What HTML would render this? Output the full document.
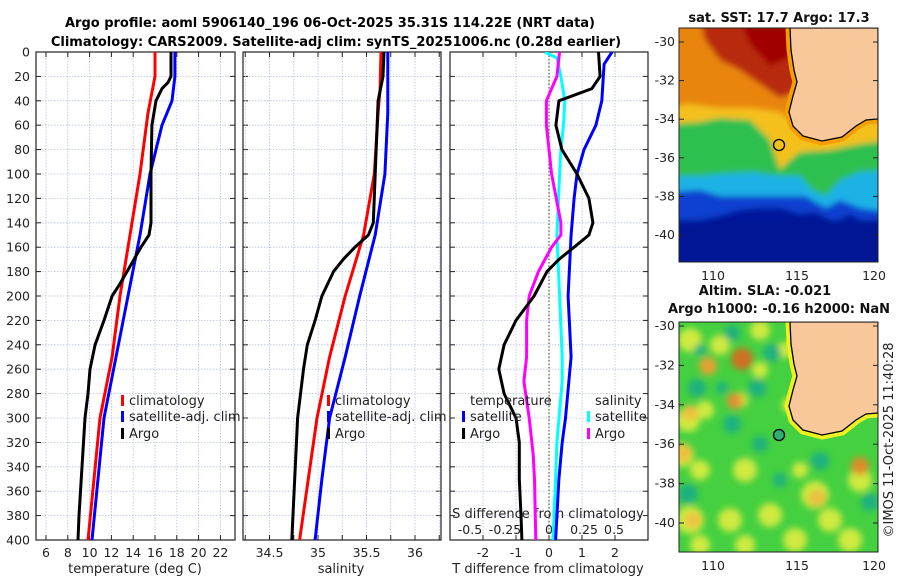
<!DOCTYPE html>
<html><head><meta charset="utf-8"><style>
html,body{margin:0;padding:0;background:#fff;}
svg{display:block;font-family:"DejaVu Sans","Liberation Sans",sans-serif;}
</style></head><body>
<svg id="fig" width="900" height="580" viewBox="0 0 900 580" xmlns="http://www.w3.org/2000/svg">
<defs>
<clipPath id="c1"><rect x="36" y="52" width="199" height="488"/></clipPath>
<clipPath id="c2"><rect x="243" y="52" width="198" height="488"/></clipPath>
<clipPath id="c3"><rect x="450" y="52" width="198" height="488"/></clipPath>
<clipPath id="m1"><rect x="679" y="28" width="199" height="234"/></clipPath>
<clipPath id="m2"><rect x="679" y="322" width="199" height="230"/></clipPath>
<filter id="bl" x="-20%" y="-20%" width="140%" height="140%"><feGaussianBlur stdDeviation="3"/></filter>
<filter id="bl2" x="-50%" y="-50%" width="200%" height="200%"><feGaussianBlur stdDeviation="3.5"/></filter>
</defs>
<text x="330" y="27" text-anchor="middle" font-weight="bold" font-size="13">Argo profile: aoml 5906140_196 06-Oct-2025 35.31S 114.22E (NRT data)</text>
<text x="336" y="46" text-anchor="middle" font-weight="bold" font-size="13">Climatology: CARS2009. Satellite-adj clim: synTS_20251006.nc (0.28d earlier)</text>
<g id="panels"></g>
<g id="maps"></g>
</svg>
<script>
// ---------- data ----------
const tempDepths = [0,20,50,100,150,200,250,300,350,400];
const tempClim = [16.0,16.0,15.36,14.62,13.71,12.79,12.06,10.95,10.4,9.85];
const tempSatDepths = [0,20,40,60,100,150,200,250,300,350,400];
const tempSat = [17.83,17.83,17.56,16.64,15.54,14.62,13.52,12.42,11.32,10.77,10.22];
const argoDepths = [0,20,25,30,40,60,100,140,150,160,170,180,190,200,220,240,260,280,300,340,380,400];
const tempArgo = [17.47,17.47,17.19,16.64,16.09,15.72,15.63,15.63,15.45,14.72,14.07,13.43,12.79,12.06,11.32,10.5,10.04,9.85,9.58,9.3,9.03,8.94];
const salDepths = [0,30,50,100,150,200,250,300,350,400];
const salClim = [35.65,35.64,35.62,35.58,35.47,35.28,35.12,34.99,34.90,34.81];
const salSatDepths = [0,50,100,150,200,250,300,350,400];
const salSat = [35.72,35.72,35.69,35.59,35.43,35.28,35.12,35.04,34.97];
const salArgoDepths = [0,20,40,100,140,150,160,170,180,200,220,240,260,300,350,400];
const salArgo = [35.68,35.67,35.62,35.59,35.57,35.52,35.38,35.26,35.16,35.04,34.97,34.89,34.85,34.79,34.76,34.73];
const dTSatDepths = [0,10,40,60,80,100,120,150,200,250,300,320,350,400];
const dTSat = [1.91,1.67,1.6,1.42,1.06,0.85,0.76,0.67,0.58,0.67,0.5,0.4,0.3,0.2];
const dTArgoDepths = [0,20,30,40,60,80,100,120,140,150,160,170,180,200,220,240,260,280,300,320,350,380,400];
const dTArgo = [1.5,1.55,1.3,0.3,0.21,0.39,0.85,1.21,1.33,1.21,0.76,0.3,-0.06,-0.45,-1.0,-1.36,-1.52,-1.36,-1.0,-0.9,-0.9,-0.85,-0.82];
const dSSatDepths = [0,5,20,40,60,80,100,150,200,250,270,320,350,400];
const dSSat = [-0.03,0.06,0.09,0.12,0.11,0.09,0.08,0.06,0.08,0.1,0.1,0.06,0.05,0.03];
const dSArgoDepths = [0,20,30,40,60,100,140,150,160,170,180,200,220,250,270,300,330,350,400];
const dSArgo = [0.08,0.06,0.02,-0.02,-0.02,0.02,0.09,0.09,0.02,-0.03,-0.08,-0.15,-0.17,-0.17,-0.19,-0.15,-0.12,-0.11,-0.1];
const depthTicks = [0,20,40,60,80,100,120,140,160,180,200,220,240,260,280,300,320,340,360,380,400];
const tempTicks = [6,8,10,12,14,16,18,20,22];
const salTicks = [34.5,35,35.5,36];
const salGrid = [34.25,34.5,34.75,35,35.25,35.5,35.75,36,36.25];
const dTTicks = [-2,-1,0,1,2];
const dSTickLabels = ['-0.5','-0.25','0','0.25','0.5'];

// ---------- scales ----------
const yD = d => 52 + d*1.22;
const xT = t => 46 + (t-6)*10.9;
const xS = s => 318 + (s-35)*97;
const xdT = t => 549 + t*33;
const xdS = s => 549 + s*132;

const NS='http://www.w3.org/2000/svg';
const P=document.getElementById('panels');
function el(tag,attrs,parent,txt){const e=document.createElementNS(NS,tag);for(const k in attrs)e.setAttribute(k,attrs[k]);if(txt!==undefined)e.textContent=txt;(parent||P).appendChild(e);return e;}
function line(vals,depths,xf,color,clip,name){
  const pts=vals.map((v,i)=>xf(v).toFixed(1)+','+yD(depths[i]).toFixed(1)).join(' ');
  const e=el('polyline',{points:pts,fill:'none',stroke:color,'stroke-width':3,'stroke-linejoin':'round','clip-path':'url(#'+clip+')'});
  
  
}
function panel(x0,w,clip,name){
  const g=el('g',{});
  
  
  depthTicks.forEach(d=>{
    el('line',{x1:x0,x2:x0+w,y1:yD(d),y2:yD(d),stroke:'#b8c0e0','stroke-width':0.8,'stroke-dasharray':'1.5,1.5'},g);
    el('line',{x1:x0,x2:x0+5,y1:yD(d),y2:yD(d),stroke:'#222'},g);
    el('line',{x1:x0+w-5,x2:x0+w,y1:yD(d),y2:yD(d),stroke:'#222'},g);
  });
  return g;
}
function vgrid(g,xs){xs.forEach(x=>{el('line',{x1:x,x2:x,y1:52,y2:540,stroke:'#b8c0e0','stroke-width':0.8,'stroke-dasharray':'1.5,1.5'},g);
  el('line',{x1:x,x2:x,y1:540,y2:535,stroke:'#222'},g);el('line',{x1:x,x2:x,y1:52,y2:57,stroke:'#222'},g);});}
function frame(g,x0,w){el('rect',{x:x0,y:52,width:w,height:488,fill:'none',stroke:'#222','stroke-width':1.2},g);}

const FS=12.5;
// y tick labels
const yl=el('g',{});


depthTicks.forEach(d=>el('text',{x:30,y:yD(d)+4.5,'text-anchor':'end','font-size':FS,fill:'#222'},yl,String(d)));

// panel 1
let g1=panel(36,199,'c1','temperature-panel');
vgrid(g1,tempTicks.map(xT));
tempTicks.forEach(t=>el('text',{x:xT(t),y:557,'text-anchor':'middle','font-size':FS,fill:'#222'},g1,String(t)));
el('text',{x:135,y:573,'text-anchor':'middle','font-size':13,fill:'#222'},g1,'temperature (deg C)');
line(tempClim,tempDepths,xT,'#ff0000','c1','temp-climatology-line');
line(tempSat,tempSatDepths,xT,'#0000ff','c1','temp-satellite-line');
line(tempArgo,argoDepths,xT,'#000000','c1','temp-argo-line');
frame(g1,36,199);

// panel 2
let g2=panel(243,198,'c2','salinity-panel');
vgrid(g2,salGrid.map(xS).filter(x=>x>243&&x<441));
salTicks.forEach(t=>el('text',{x:xS(t),y:557,'text-anchor':'middle','font-size':FS,fill:'#222'},g2,String(t)));
el('text',{x:341,y:573,'text-anchor':'middle','font-size':13,fill:'#222'},g2,'salinity');
line(salClim,salDepths,xS,'#ff0000','c2','sal-climatology-line');
line(salSat,salSatDepths,xS,'#0000ff','c2','sal-satellite-line');
line(salArgo,salArgoDepths,xS,'#000000','c2','sal-argo-line');
frame(g2,243,198);

// panel 3
let g3=panel(450,198,'c3','difference-panel');
vgrid(g3,dTTicks.map(xdT));
el('line',{x1:549,x2:549,y1:52,y2:540,stroke:'#556633','stroke-width':1.2,'stroke-dasharray':'1.5,2'},g3);
dTTicks.forEach(t=>el('text',{x:xdT(t),y:557,'text-anchor':'middle','font-size':FS,fill:'#222'},g3,String(t)));
el('text',{x:548,y:573,'text-anchor':'middle','font-size':13,fill:'#222'},g3,'T difference from climatology');
line(dSSat,dSSatDepths,xdS,'#00ffff','c3','sal-diff-satellite-line');
line(dSArgo,dSArgoDepths,xdS,'#ff00ff','c3','sal-diff-argo-line');
line(dTSat,dTSatDepths,xdT,'#0000ff','c3','temp-diff-satellite-line');
line(dTArgo,dTArgoDepths,xdT,'#000000','c3','temp-diff-argo-line');
el('text',{x:548,y:518,'text-anchor':'middle','font-size':13,fill:'#222'},g3,'S difference from climatology');
const sLab=[470,505,549,584,614];
dSTickLabels.forEach((t,i)=>el('text',{x:sLab[i],y:534,'text-anchor':'middle','font-size':FS,fill:'#222'},g3,t));
frame(g3,450,198);

// legends
function leg(x,y,color,txt,name){
  const g=el('g',{});
  
  
  if(color) el('rect',{x:x,y:y-10,width:3,height:11,fill:color},g);
  el('text',{x:x+(color?8:0),y:y,'font-size':13,fill:'#222'},g,txt);
}
leg(121,405,'#ff0000','climatology','legend-temp-climatology');
leg(121,421,'#0000ff','satellite-adj. clim','legend-temp-satellite');
leg(121,438,'#000000','Argo','legend-temp-argo');
leg(327,405,'#ff0000','climatology','legend-sal-climatology');
leg(327,421,'#0000ff','satellite-adj. clim','legend-sal-satellite');
leg(327,438,'#000000','Argo','legend-sal-argo');
leg(470,405,null,'temperature','legend-diff-temperature-title');
leg(462,421,'#0000ff','satellite','legend-diff-temp-satellite');
leg(462,438,'#000000','Argo','legend-diff-temp-argo');
leg(595,405,null,'salinity','legend-diff-salinity-title');
leg(587,421,'#00ffff','satellite','legend-diff-sal-satellite');
leg(587,438,'#ff00ff','Argo','legend-diff-sal-argo');

// ---------- maps ----------
const M=document.getElementById('maps');
function mel(tag,attrs,parent,txt){return el(tag,attrs,parent||M,txt);}
function land(dy){return `M790,${28+dy} L878,${28+dy} L878,${119+dy} L866,${120+dy} L856,${126+dy} L842,${137+dy} L822,${141+dy} L803,${136+dy} L793,${126+dy} L789,${112+dy} L793,${96+dy} L797,${82+dy} L794,${70+dy} L791,${50+dy} Z`;}

// top SST map
const sm=mel('g',{'clip-path':'url(#m1)'});


const sg=mel('g',{filter:'url(#bl)'},sm);
mel('rect',{x:670,y:20,width:220,height:260,fill:'#00199a'},sg);
mel('path',{d:'M670,20 H890 V232 L870,226 L850,214 L835,222 L815,212 L800,214 L780,208 L760,208 L740,210 L720,216 L700,220 L670,222 Z',fill:'#0a3fd0'},sg);
mel('path',{d:'M670,20 H890 V212 L860,208 L840,200 L826,208 L805,196 L780,196 L750,196 L720,196 L700,190 L670,192 Z',fill:'#1ab2e6'},sg);
mel('path',{d:'M670,20 H890 V170 L860,172 L840,180 L826,196 L812,190 L800,176 L780,176 L750,172 L720,174 L700,176 L670,176 Z',fill:'#2ec050'},sg);
mel('path',{d:'M670,20 H890 V140 L860,144 L830,150 L800,152 L790,160 L780,170 L770,140 L750,120 L720,118 L700,122 L670,124 Z',fill:'#f4c01a'},sg);
mel('path',{d:'M670,20 H890 V120 L800,128 L780,112 L750,108 L720,108 L690,104 L670,106 Z',fill:'#e8850e'},sg);
mel('path',{d:'M700,20 H800 V90 L780,98 L760,84 L740,70 L720,60 L705,40 Z',fill:'#b82c08'},sg);
mel('path',{d:'M740,20 H795 V55 L770,66 L750,44 Z',fill:'#a00000'},sg);
mel('rect',{x:670,y:220,width:220,height:50,fill:'#001595'},sg);
mel('path',{d:land(0),fill:'#f9c89a',stroke:'#f5a000','stroke-width':9},sm);
mel('path',{d:land(0),fill:'#f9c89a',stroke:'#000','stroke-width':1.3},sm);
mel('circle',{cx:779,cy:145,r:5.5,fill:'none',stroke:'#000','stroke-width':1.3},sm);
mel('rect',{x:679,y:28,width:199,height:234,fill:'none',stroke:'#222'});

// bottom SLA map
const am=mel('g',{'clip-path':'url(#m2)'});


mel('rect',{x:670,y:315,width:220,height:245,fill:'#44d040'},am);
const ag=mel('g',{filter:'url(#bl2)'},am);
const yl2=[[690,340,12],[720,345,10],[760,330,10],[785,350,8],[688,420,12],[705,410,9],[760,370,8],[682,455,12],[700,470,10],[745,470,12],[690,520,14],[730,520,12],[770,515,12],[815,495,14],[830,520,12],[850,540,12],[860,480,12],[800,470,8],[795,540,12],[745,545,10],[700,545,10],[740,400,8],[790,405,8]];
yl2.forEach(b=>mel('circle',{cx:b[0],cy:b[1],r:b[2],fill:'#d0ea40'},ag));
const ob=[[708,366,9,'#e8a030'],[742,359,11,'#d07020'],[735,401,8,'#e89030'],[690,413,8,'#f0c040'],[683,453,9,'#f0c040'],[860,466,9,'#e08a28'],[817,498,9,'#e8c040'],[693,520,8,'#f0c040']];
ob.forEach(b=>mel('circle',{cx:b[0],cy:b[1],r:b[2],fill:b[3]},ag));
const tb=[[732,424,9],[757,388,9],[772,353,9],[697,388,9],[732,333,8],[688,494,10],[760,444,8],[820,461,9],[870,502,9],[722,388,6],[700,350,6],[780,480,7]];
tb.forEach(b=>mel('circle',{cx:b[0],cy:b[1],r:b[2],fill:'#1fb080'},ag));
mel('path',{d:land(294),fill:'#f9c89a',stroke:'#eef020','stroke-width':9},am);
mel('path',{d:land(294),fill:'#f9c89a',stroke:'#000','stroke-width':1.3},am);
mel('circle',{cx:779,cy:435,r:5.5,fill:'#30b070',stroke:'#000','stroke-width':1.3},am);
mel('rect',{x:679,y:322,width:199,height:230,fill:'none',stroke:'#222'});

// map axes
const latLab=['-30','-32','-34','-36','-38','-40'];
const mx=el('g',{},M);


latLab.forEach((l,i)=>{
  const y1=42+i*38.6, y2=326+i*39.4;
  mel('text',{x:675,y:y1+4,'text-anchor':'end','font-size':FS,fill:'#222'},mx,l);
  mel('text',{x:675,y:y2+4,'text-anchor':'end','font-size':FS,fill:'#222'},mx,l);
  [[679,684],[873,878]].forEach(a=>{mel('line',{x1:a[0],x2:a[1],y1:y1,y2:y1,stroke:'#222'},mx);mel('line',{x1:a[0],x2:a[1],y1:y2,y2:y2,stroke:'#222'},mx);});
});
[['110',713],['115',797],['120',874]].forEach(l=>{
  mel('text',{x:l[1],y:280,'text-anchor':'middle','font-size':FS,fill:'#222'},mx,l[0]);
  mel('text',{x:l[1],y:570,'text-anchor':'middle','font-size':FS,fill:'#222'},mx,l[0]);
});
mel('text',{x:779,y:22,'text-anchor':'middle','font-size':13,'font-weight':'bold',fill:'#111'},mx,'sat. SST: 17.7 Argo: 17.3');
mel('text',{x:765,y:295,'text-anchor':'middle','font-size':13,'font-weight':'bold',fill:'#111'},mx,'Altim. SLA: -0.021');
mel('text',{x:779,y:313,'text-anchor':'middle','font-size':13,'font-weight':'bold',fill:'#111'},mx,'Argo h1000: -0.16 h2000: NaN');
mel('text',{x:0,y:0,'text-anchor':'middle','font-size':13,fill:'#222',transform:'translate(893,440) rotate(-90)'},mx,'©IMOS 11-Oct-2025 11:40:28');
</script>
</body></html>
